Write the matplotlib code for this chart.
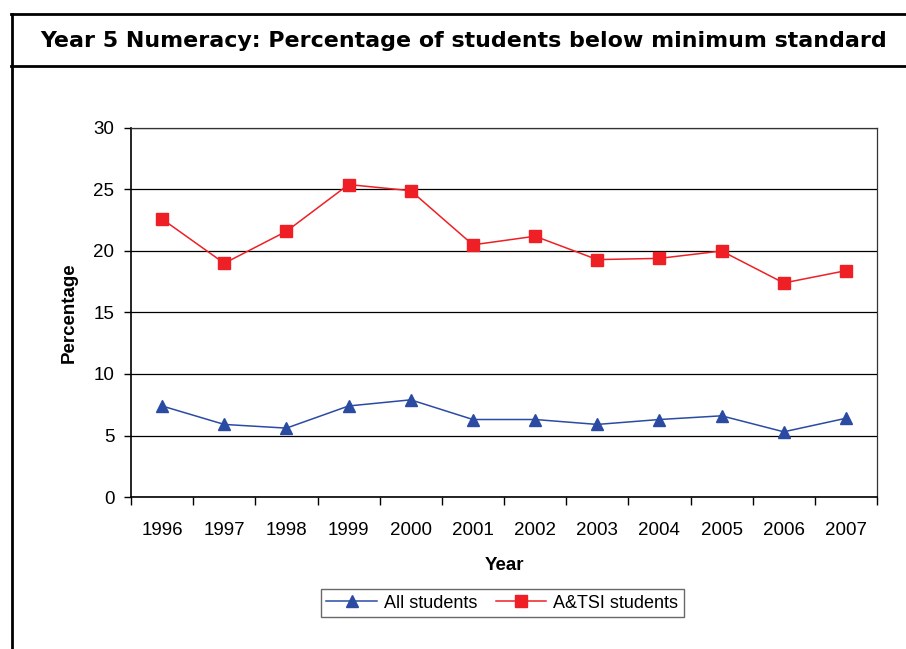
import matplotlib
matplotlib.use("Agg")
from matplotlib import pyplot as plt
from matplotlib.lines import Line2D
import numpy as np

years = ["1996", "1997", "1998", "1999", "2000", "2001",
         "2002", "2003", "2004", "2005", "2006", "2007"]
all_students = [7.4, 5.9, 5.6, 7.4, 7.9, 6.3, 6.3, 5.9, 6.3, 6.6, 5.3, 6.4]
atsi_students = [22.6, 19.0, 21.6, 25.4, 24.9, 20.5, 21.2, 19.3, 19.4, 20.0, 17.4, 18.4]

plt.rcParams['font.family'] = ['Liberation Sans', 'DejaVu Sans']

fig = plt.figure(figsize=(9.06, 6.49), dpi=100)
ax = fig.add_axes([0.1446, 0.2342, 0.8234, 0.5686])

x = np.arange(len(years))
ax.plot(x, all_students, color='#2B4BA3', linewidth=1.1, marker='^',
        markersize=9, label='All students')
ax.plot(x, atsi_students, color='#EE1F25', linewidth=1.1, marker='s',
        markersize=8, label='A&TSI students')

ax.set_xlim(-0.5, len(years) - 0.5)
ax.set_ylim(0, 30)
ax.set_yticks(range(0, 31, 5))
ax.tick_params(axis='y', labelsize=13.5, length=5, direction='out', width=1, pad=7)

# category labels sit between the boundary ticks
ax.set_xticks(x)
ax.set_xticklabels(years, fontsize=13.5)
ax.tick_params(axis='x', length=0, pad=18)
ax.set_xticks(np.arange(-0.5, len(years)), minor=True)
ax.tick_params(axis='x', which='minor', length=6, width=1, direction='out')

ax.yaxis.grid(True, color='black', linewidth=0.9)
ax.set_axisbelow(True)
for side in ['left', 'bottom']:
    ax.spines[side].set_linewidth(1.2)
for side in ['top', 'right']:
    ax.spines[side].set_linewidth(0.9)
    ax.spines[side].set_color('#333333')

ax.set_xlabel('Year', fontsize=13.5, fontweight='bold', labelpad=13)
ax.set_ylabel('Percentage', fontsize=13.5, fontweight='bold', labelpad=11)

leg = fig.legend(loc='center', bbox_to_anchor=(0.5545, 0.0705), ncol=2,
                 fontsize=13.0, frameon=True, fancybox=False, edgecolor='#444444',
                 handlelength=2.8, columnspacing=1.0, handletextpad=0.4,
                 borderpad=0.3)
leg.get_frame().set_linewidth(1.0)

# outer frame and title box
fig.add_artist(Line2D([11.5 / 906, 11.5 / 906], [0, 1 - 14 / 649],
                      color='black', linewidth=2, transform=fig.transFigure))
fig.add_artist(Line2D([11 / 906, 1], [1 - 14 / 649, 1 - 14 / 649],
                      color='black', linewidth=2, transform=fig.transFigure))
fig.add_artist(Line2D([11 / 906, 1], [1 - 66 / 649, 1 - 66 / 649],
                      color='black', linewidth=2, transform=fig.transFigure))

fig.text(0.512, 1 - 41 / 649, 'Year 5 Numeracy: Percentage of students below minimum standard',
         ha='center', va='center', fontsize=15.9, fontweight='bold',
         family='DejaVu Sans')

fig.savefig('out.png', dpi=100)
